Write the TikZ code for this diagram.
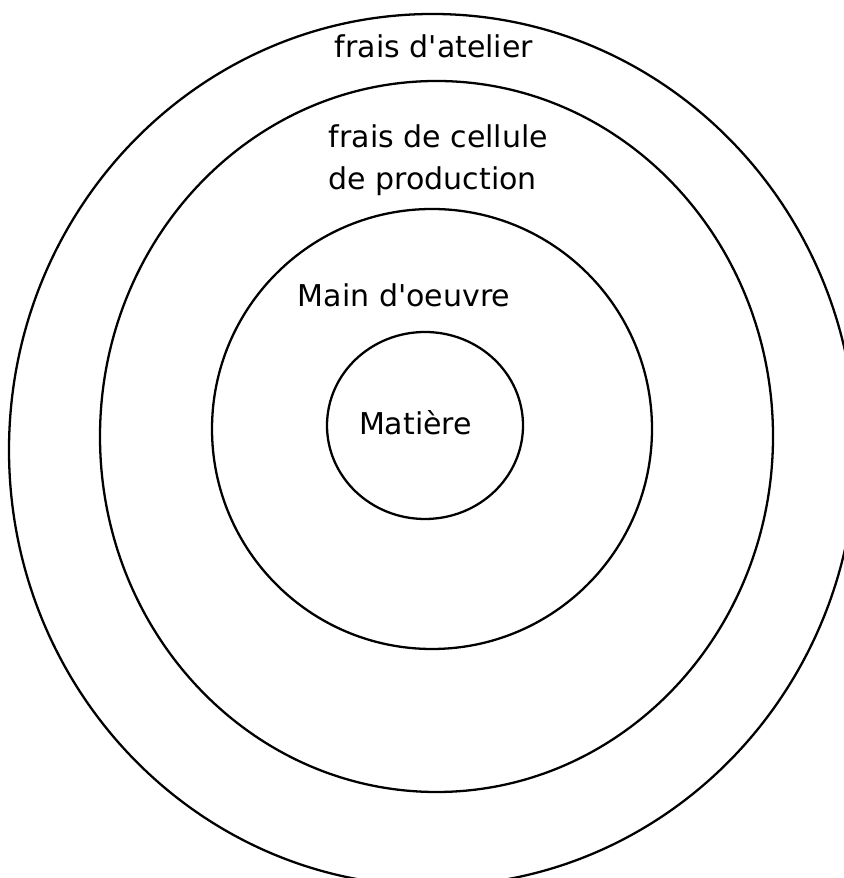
\documentclass[tikz,border=0pt]{standalone}
\usepackage{fontspec}
\setmainfont{DejaVu Sans}[Ligatures=TeXOff]
\usepackage{tikz}
\usetikzlibrary{positioning}

\tikzset{
  ring/.style={black, line width=0.65pt},
  lbl/.style={font=\fontsize{8.54pt}{11.95pt}\selectfont, inner sep=0pt}
}

\begin{document}
\begin{tikzpicture}
\useasboundingbox (0,0) rectangle (8.44,8.78);
\fill[white] (0,0) rectangle (8.44,8.78);

% the four rings, outside in
\draw[ring] (4.325,4.28) ellipse (4.235 and 4.36);
\draw[ring] (4.365,4.415) ellipse (3.365 and 3.555);
\draw[ring] (4.32,4.49) circle (2.2);
\draw[ring] (4.25,4.525) ellipse (0.98 and 0.935);

\node[lbl, anchor=base] (atelier) at (4.34,8.20) {frais d'atelier};
\node[lbl, anchor=west, align=left] (cellule) at (3.28,7.18) {frais de cellule\\de production};
\node[lbl, anchor=base] (mainoeuvre) at (4.04,5.71) {Main d'oeuvre};
\node[lbl, anchor=base] (matiere) at (4.155,4.43) {Matière};
\end{tikzpicture}
\end{document}
